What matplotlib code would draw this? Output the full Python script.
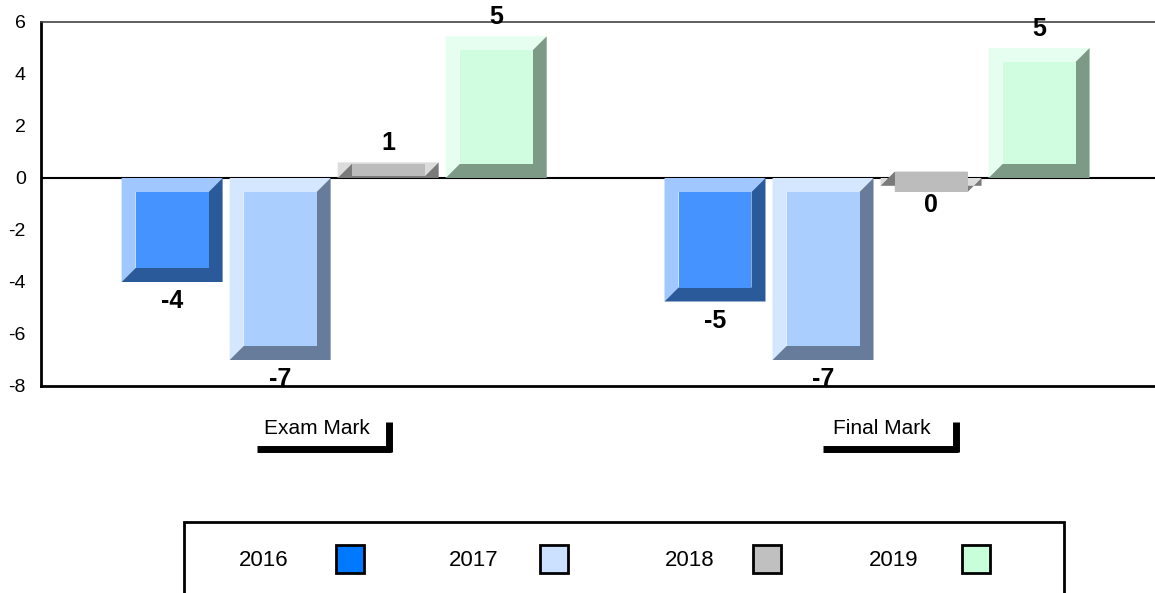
import matplotlib
matplotlib.use("Agg")
import matplotlib.pyplot as plt
from matplotlib.patches import Polygon, Rectangle
from matplotlib.lines import Line2D

plt.rcParams['font.family'] = ['Liberation Sans', 'DejaVu Sans']

categories = ['Exam Mark', 'Final Mark']
years = ['2016', '2017', '2018', '2019']
values = {
    '2016': [-4.0, -4.75],
    '2017': [-7.0, -7.0],
    '2018': [0.6, -0.3],
    '2019': [5.45, 5.0],
}
# (face, light bevel, dark bevel, legend swatch)
colours = {
    '2016': ('#4493FE', '#A0C8FE', '#2A5A9A', '#0078FF'),
    '2017': ('#AACFFE', '#D5E6FF', '#677C9A', '#CCE0FF'),
    '2018': ('#BCBCBC', '#DCDCDC', '#7A7A7A', '#C0C0C0'),
    '2019': ('#D0FDE0', '#E6FEEF', '#7D9A87', '#C8FFDA'),
}
yticks = [-8, -6, -4, -2, 0, 2, 4, 6]

W, H = 1155, 593
fig = plt.figure(figsize=(W / 100, H / 100), dpi=100)
ax = fig.add_axes([41 / W, 1 - 386 / H, 1 - 41 / W, (386 - 22) / H])

bar_w = 0.186
step = 0.199
dx = 14 / 543   # bevel size in data units
dy = 14 / 26


def bevel_bar(x0, v, face, light, dark):
    x1 = x0 + bar_w
    lo, hi = min(0, v), max(0, v)
    ix0, ix1 = x0 + dx, x1 - dx
    ilo, ihi = lo + dy, hi - dy
    ax.add_patch(Polygon([(x0, lo), (x0, hi), (x1, hi), (ix1, ihi), (ix0, ihi), (ix0, ilo)],
                         closed=True, facecolor=light, edgecolor='none', zorder=3))
    ax.add_patch(Polygon([(x0, lo), (x1, lo), (x1, hi), (ix1, ihi), (ix1, ilo), (ix0, ilo)],
                         closed=True, facecolor=dark, edgecolor='none', zorder=3))
    ax.add_patch(Rectangle((ix0, min(ilo, ihi)), ix1 - ix0, abs(ihi - ilo),
                           facecolor=face, edgecolor='none', zorder=4))


for ci, cat in enumerate(categories):
    for si, yr in enumerate(years):
        v = values[yr][ci]
        x0 = ci + (si - 2) * step + (step - bar_w) / 2
        face, light, dark, _ = colours[yr]
        bevel_bar(x0, v, face, light, dark)
        off = 14 if v >= 0 else -14
        ax.annotate(f"{int(round(v))}", (x0 + bar_w / 2, v), xytext=(0, off),
                    textcoords='offset points', ha='center', va='center',
                    fontsize=18, fontweight='bold', zorder=6)

ax.axhline(0, color='black', lw=1.5, zorder=2)
ax.set_xlim(-0.54, 1.512)
ax.set_ylim(-8, 6)
ax.set_yticks(yticks)
ax.set_yticklabels([str(t) for t in yticks], fontsize=14)
ax.tick_params(axis='y', length=0, pad=11)
ax.set_xticks([])
ax.spines['right'].set_visible(False)
ax.spines['left'].set_linewidth(2)
ax.spines['bottom'].set_linewidth(2)
ax.spines['top'].set_linewidth(1.2)
ax.spines['top'].set_color('#444444')


def fx(x):
    return x / W


def fy(y):
    return 1 - y / H


# category labels with their bracket marks
cat_layout = [(317, 257, 391), (882, 823, 958)]
for cat, (tx, bl, br) in zip(categories, cat_layout):
    fig.text(fx(tx), fy(428), cat, ha='center', va='center', fontsize=15)
    fig.add_artist(Line2D([fx(bl), fx(br)], [fy(449), fy(449)], color='black', lw=5,
                          solid_capstyle='butt'))
    fig.add_artist(Line2D([fx(br - 2), fx(br - 2)], [fy(422), fy(452)], color='black', lw=5,
                          solid_capstyle='butt'))

# legend box
fig.add_artist(Rectangle((fx(184), fy(600)), fx(1064 - 184), fy(522) - fy(600),
                         transform=fig.transFigure, facecolor='none', edgecolor='black', lw=2))
leg_text_x = [289, 499, 714, 918]
leg_box_x = [336, 540, 753, 962]
for yr, tx, bx in zip(years, leg_text_x, leg_box_x):
    fig.text(fx(tx), fy(560), yr, ha='right', va='center', fontsize=16)
    fig.add_artist(Rectangle((fx(bx), fy(573)), fx(28), fy(545) - fy(573),
                             transform=fig.transFigure, facecolor=colours[yr][3],
                             edgecolor='black', lw=2))

fig.savefig('out.png', dpi=100)
